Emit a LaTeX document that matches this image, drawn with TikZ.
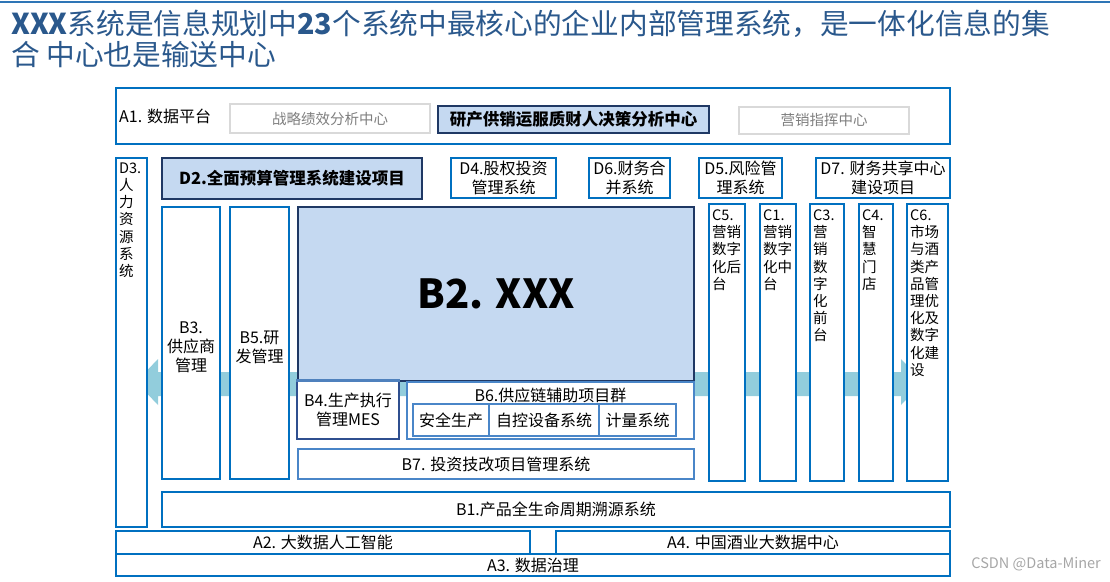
\documentclass[tikz,border=0pt]{standalone}
\usepackage{fontspec}
\setmainfont{Noto Sans CJK SC}
\newcommand{\fsz}[2]{\fontsize{#1}{#2}\selectfont}
\definecolor{bluebd}{HTML}{0070C0}
\definecolor{navy}{HTML}{1F3864}
\definecolor{lfill}{HTML}{C5D9F1}
\definecolor{arrowc}{HTML}{92CDDC}
\definecolor{grayb}{HTML}{D9D9D9}
\definecolor{grayt}{HTML}{7F7F7F}
\definecolor{titlec}{RGB}{42,88,140}
\definecolor{rulec}{HTML}{2E75B6}
\definecolor{midb}{HTML}{4A86C8}
\definecolor{bfourb}{HTML}{2F4F8F}
\definecolor{bfourtop}{HTML}{4F81BD}
\definecolor{wmark}{HTML}{A6A6A6}
\tikzset{
  bx/.style={draw=bluebd, line width=1.2pt, fill=white, inner sep=0pt, font=\fsz{16}{19}, align=center},
  sz/.style 2 args={minimum width=#1, minimum height=#2},
  navybx/.style={bx, draw=navy, fill=lfill},
  graybx/.style={bx, draw=grayb, text=grayt, font=\fsz{14.5}{17}},
  midbx/.style={bx, draw=midb, line width=1.1pt},
  coltxt/.style={anchor=north west, inner sep=0pt, align=left, font=\fsz{14.5}{17.2}},
  plain/.style={inner sep=0pt, font=\fsz{16}{19}, align=center},
}
\begin{document}
\begin{tikzpicture}[x=1pt,y=-1pt]
\useasboundingbox (0,0) rectangle (1110,581);
% top rule
\coordinate (rl) at (0,2);
\coordinate (rr) at (1110,2);
\draw[rulec, line width=1.6pt] (rl) -- (rr);
% title
\node[anchor=north west, inner sep=0pt, align=left, text=titlec, font=\fsz{28.7}{31}] (title) at (11,10)
  {\textbf{XXX}系统是信息规划中\textbf{23}个系统中最核心的企业内部管理系统，是一体化信息的集\\合 中心也是输送中心};

% double-headed flow arrow (behind boxes)
\fill[arrowc] (136,382) -- (158,359) -- (158,372) -- (901,372) -- (901,359) -- (923,382)
  -- (901,405) -- (901,396) -- (158,396) -- (158,405) -- cycle;

% A1 data platform
\node[bx, sz={834}{56}] (a1) at (533,116) {};
\node[plain, anchor=west] (a1l) at (119,116) {A1. 数据平台};
\node[graybx, sz={200}{29}] (g1) at (330,118.5) {战略绩效分析中心};
\node[navybx, sz={271}{27}, font=\fsz{16.5}{19}\bfseries] (key) at (573.5,119.5) {研产供销运服质财人决策分析中心};
\node[graybx, sz={170}{27}] (g2) at (824,120.5) {营销指挥中心};

% D row
\node[bx, sz={31}{369}] (d3) at (131.5,342.5) {};
\node[coltxt] (d3t) at (119,162.5) {D3.\\人\\力\\资\\源\\系\\统};
\node[navybx, sz={260}{41}, font=\fsz{16.5}{19}\bfseries] (d2) at (292,178.5) {D2.全面预算管理系统建设项目};
\node[bx, sz={105}{40}] (d4) at (503.5,178) {D4.股权投资\\管理系统};
\node[bx, sz={81}{40}] (d6) at (629.5,178) {D6.财务合\\并系统};
\node[bx, sz={83}{40}] (d5) at (740.5,178) {D5.风险管\\理系统};
\node[bx, sz={134}{40}] (d7) at (883,178) {D7. 财务共享中心\\建设项目};

% B area
\node[bx, sz={58}{272}] (b3) at (191,343) {};
\node[plain] (b3t) at (191,347) {B3.\\供应商\\管理};
\node[bx, sz={59}{272}] (b5) at (259.5,343) {};
\node[plain] (b5t) at (259.5,347) {B5.研\\发管理};
\node[navybx, sz={396}{174}, font=\fsz{40}{44}\bfseries] (b2) at (496,294) {B2. XXX};
\node[bx, draw=bfourb, sz={102}{58}] (b4) at (348,410) {B4.生产执行\\管理MES};
\draw[bfourtop, line width=2.6pt] (b4.north west) -- (b4.north east);
\node[midbx, sz={287}{57}] (b6) at (550.5,410.5) {};
\node[plain] (b6t) at (550.5,395) {B6.供应链辅助项目群};
\node[midbx, sz={76}{32}] (s1) at (451,420) {安全生产};
\node[midbx, sz={110}{32}] (s2) at (544,420) {自控设备系统};
\node[midbx, sz={77}{32}] (s3) at (637.5,420) {计量系统};
\node[midbx, sz={396}{30}] (b7) at (496,464) {B7. 投资技改项目管理系统};

% C columns
\node[bx, sz={36}{277}] (c5) at (727,342.5) {};
\node[coltxt] (c5t) at (712,209.5) {C5.\\营销\\数字\\化后\\台};
\node[bx, sz={36}{277}] (c1) at (778,342.5) {};
\node[coltxt] (c1t) at (763,209.5) {C1.\\营销\\数字\\化中\\台};
\node[bx, sz={34}{277}] (c3) at (827,342.5) {};
\node[coltxt] (c3t) at (813,209.5) {C3.\\营\\销\\数\\字\\化\\前\\台};
\node[bx, sz={34}{277}] (c4) at (876,342.5) {};
\node[coltxt] (c4t) at (862,209.5) {C4.\\智\\慧\\门\\店};
\node[bx, sz={41}{277}] (c6) at (927.5,342.5) {};
\node[coltxt] (c6t) at (910,209.5) {C6.\\市场\\与酒\\类产\\品管\\理优\\化及\\数字\\化建\\设};

% bottom rows
\node[bx, sz={788}{35}] (b1) at (556,509.5) {B1.产品全生命周期溯源系统};
\node[bx, sz={834}{22}] (a3) at (533,565) {A3. 数据治理};
\node[bx, sz={414}{23}] (a2) at (323,542.5) {A2. 大数据人工智能};
\node[bx, sz={394}{23}] (a4) at (753,542.5) {A4. 中国酒业大数据中心};

% watermark
\node[inner sep=0pt, anchor=east, text=wmark, font=\fsz{14.5}{17}] (wm) at (1101,564) {CSDN @Data-Miner};
\end{tikzpicture}
\end{document}
